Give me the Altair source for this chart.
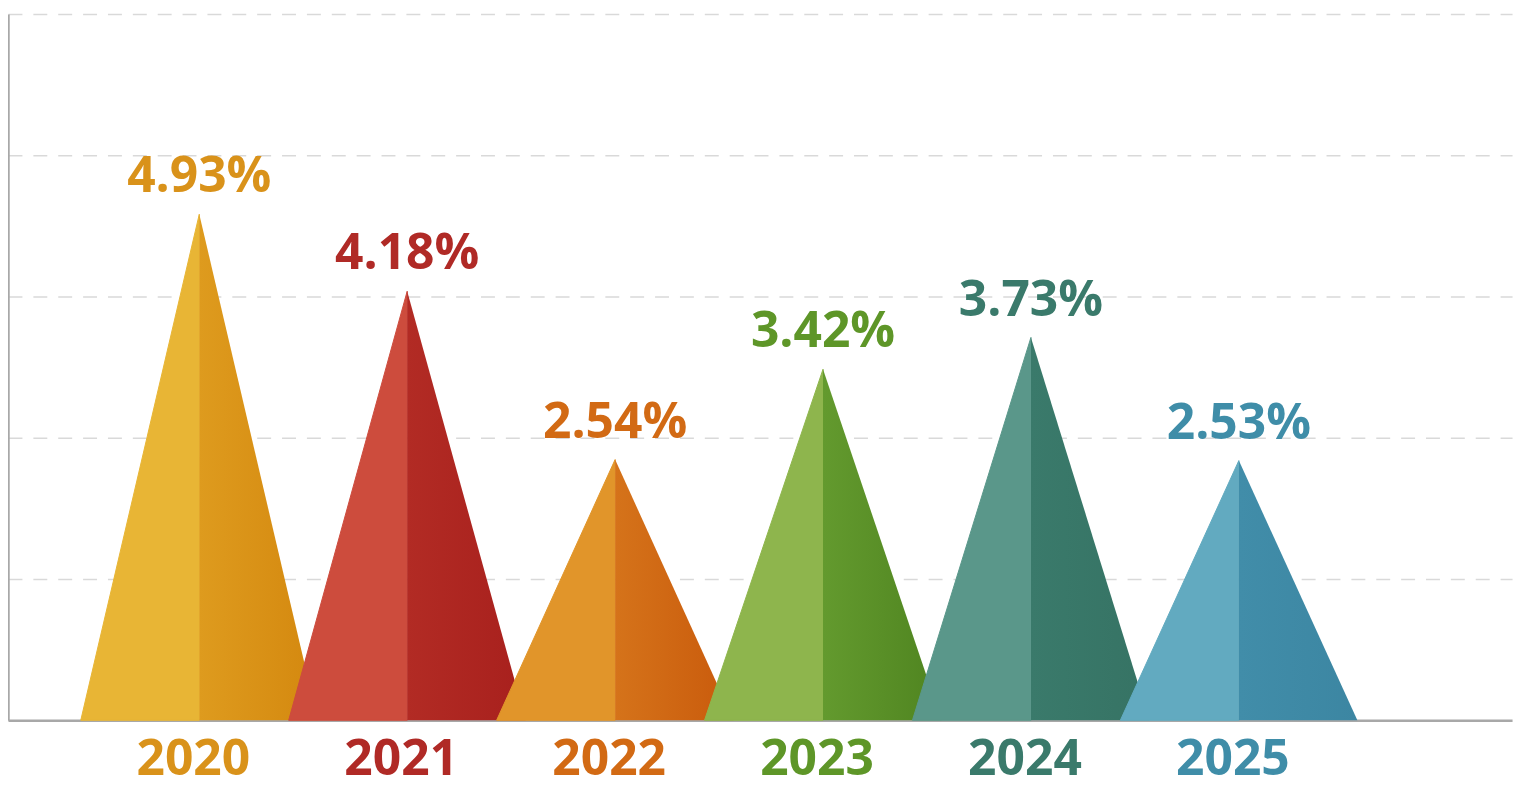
import altair as alt
import pandas as pd

# ---- data ----
years = ["2020", "2021", "2022", "2023", "2024", "2025"]
rates = [4.93, 4.18, 2.54, 3.42, 3.73, 2.53]

# ---- styles ----
light_colors = ["#E8B535", "#CD4C3D", "#E1952A", "#8EB54D", "#5A978A", "#62AAC0"]
dark_colors = ["#DE9B1E", "#B22B24", "#D5731A", "#639A2E", "#3A7A6B", "#418DA9"]
dark_edge_colors = ["#D4880F", "#A8201D", "#C95A0C", "#4F8420", "#367364", "#3C86A2"]
label_colors = ["#D9921A", "#B02A26", "#D26A14", "#5E9628", "#3A7A6B", "#3F8DA8"]

HALF = 0.57           # half base width of each pyramid, in x units
X_DOMAIN = [-0.92, 6.314]
Y_MAX = 6.88
GRID_VALUES = [Y_MAX * k / 5 for k in range(1, 6)]

# ---- tables built from the lists ----
rows = []
for i, (yr, v) in enumerate(zip(years, rates)):
    rows += [
        dict(year=yr, side="L", x=i - HALF, y=0.0),
        dict(year=yr, side="L", x=i, y=v),
        dict(year=yr, side="R", x=i, y=v),
        dict(year=yr, side="R", x=i + HALF, y=0.0),
    ]
tri = pd.DataFrame(rows)

lab = pd.DataFrame({
    "year": years,
    "x": list(range(len(years))),
    "rate": rates,
    "zero": [0.0] * len(years),
    "label": [f"{v:.2f}%" for v in rates],
})

xs = alt.Scale(domain=X_DOMAIN, nice=False, zero=False)
ys = alt.Scale(domain=[0, Y_MAX], nice=False)

x_axis = alt.Axis(labels=False, ticks=False, grid=False, title=None, domain=True,
                  domainColor="#A8A8A8", domainWidth=2.5)
y_axis = alt.Axis(labels=False, ticks=False, grid=True, title=None, domain=True,
                  values=GRID_VALUES, domainColor="#A8A8A8", domainWidth=2.5,
                  gridColor="#D9D9D9", gridDash=[14, 11], gridWidth=1.5)

layers = []
for i, yr in enumerate(years):
    left = tri[(tri.year == yr) & (tri.side == "L")]
    right = tri[(tri.year == yr) & (tri.side == "R")]
    layers.append(
        alt.Chart(left).mark_area(
            color=light_colors[i], stroke=light_colors[i], strokeWidth=1, interpolate="linear"
        ).encode(
            x=alt.X("x:Q", scale=xs, axis=x_axis),
            y=alt.Y("y:Q", scale=ys, axis=y_axis),
        )
    )
    grad = alt.Gradient(
        gradient="linear",
        stops=[alt.GradientStop(color=dark_colors[i], offset=0),
               alt.GradientStop(color=dark_edge_colors[i], offset=1)],
        x1=0, x2=1, y1=0, y2=0,
    )
    layers.append(
        alt.Chart(right).mark_area(color=grad, interpolate="linear").encode(
            x=alt.X("x:Q", scale=xs, axis=x_axis),
            y=alt.Y("y:Q", scale=ys, axis=y_axis),
        )
    )

value_text = alt.Chart(lab).mark_text(
    font="Open Sans", fontWeight="bold", fontSize=50, baseline="alphabetic", dy=-22
).encode(
    x=alt.X("x:Q", scale=xs, axis=x_axis),
    y=alt.Y("rate:Q", scale=ys, axis=y_axis),
    text="label:N",
    color=alt.Color("year:N", scale=alt.Scale(domain=years, range=label_colors), legend=None),
)

year_text = alt.Chart(lab).mark_text(
    font="Open Sans", fontWeight="bold", fontSize=50, baseline="alphabetic", dy=55, dx=-6
).encode(
    x=alt.X("x:Q", scale=xs, axis=x_axis),
    y=alt.Y("zero:Q", scale=ys, axis=y_axis),
    text="year:N",
    color=alt.Color("year:N", scale=alt.Scale(domain=years, range=label_colors), legend=None),
)

chart = alt.layer(*layers, value_text, year_text).properties(
    width=1512,
    height=710,
    autosize=alt.AutoSizeParams(type="none"),
    padding={"left": 0, "top": 4, "right": 10, "bottom": 69},
    background="white",
).configure_view(stroke=None)

chart.save("out.html", embed_options={"renderer": "svg", "actions": False})
